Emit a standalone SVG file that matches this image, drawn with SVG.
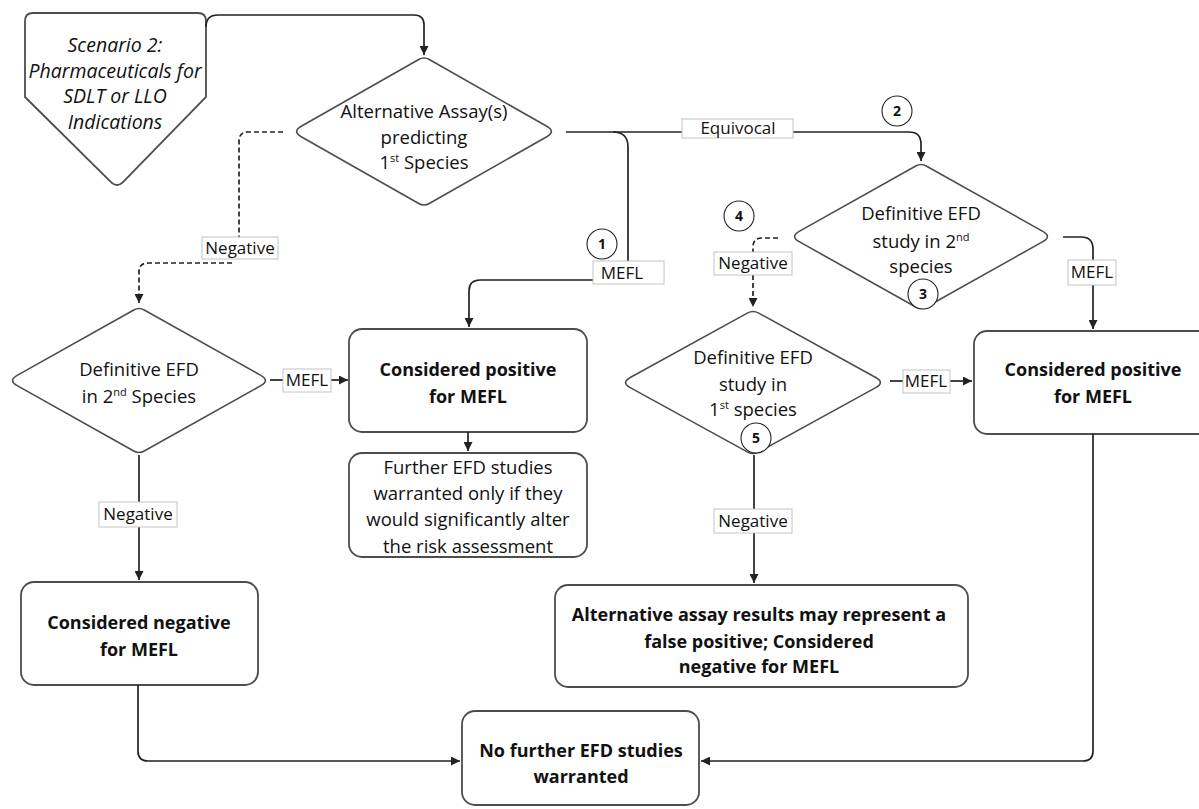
<svg xmlns="http://www.w3.org/2000/svg" width="1199" height="809" viewBox="0 0 1199 809">
<defs>
<style>
.box{fill:#fff;stroke:#4d4d4d;stroke-width:1.8}
.dia{fill:#fff;stroke:#4d4d4d;stroke-width:1.6}
.lbl{fill:#fff;stroke:#c4c4c4;stroke-width:1}
.con{fill:none;stroke:#222;stroke-width:1.7}
.dash{stroke-dasharray:5 3}
.circ{fill:#fff;stroke:#222;stroke-width:1.1}
text{font-family:"Open Sans","DejaVu Sans",sans-serif;fill:#111;text-anchor:middle}
.t{font-size:18.5px}
.b{font-size:18px;font-weight:bold}
.l{font-size:17px}
.i{font-size:19.5px;font-style:italic}
.n{font-size:14px;font-weight:bold}
</style>
<marker id="ah" markerUnits="userSpaceOnUse" markerWidth="10" markerHeight="9" refX="9" refY="4.5" orient="auto">
<path d="M0,0 L9,4.5 L0,9 Z" fill="#222"/>
</marker>
</defs>
<rect width="1199" height="809" fill="#fff"/>

<g id="start">
<path class="box" d="M33,13 H198 Q206,13 206,21 V97 L124,181 Q117,189 110,181 L25,97 V21 Q25,13 33,13 Z"/>
<text class="i" x="115" y="52">Scenario 2:</text>
<text class="i" x="115" y="78">Pharmaceuticals for</text>
<text class="i" x="115" y="103">SDLT or LLO</text>
<text class="i" x="115" y="129">Indications</text>
</g>

<g id="alt-assay">
<path class="dia" d="M418.72,59.5 Q424,56.5 429.28,59.5 L546.76,126.25 Q556,131.5 546.76,136.75 L429.28,203.5 Q424,206.5 418.72,203.5 L301.24,136.75 Q292,131.5 301.24,126.25 Z"/>
<text class="t" x="424" y="118">Alternative Assay(s)</text>
<text class="t" x="424" y="144">predicting</text>
<text class="t" x="424" y="169">1<tspan font-size="11" dy="-7">st</tspan><tspan dy="7"> Species</tspan></text>
</g>

<g id="efd-2nd-equivocal">
<path class="dia" d="M915.76,165.94 Q921,163 926.24,165.94 L1042.83,231.36 Q1052,236.5 1042.83,241.65 L926.24,307.06 Q921,310 915.76,307.06 L799.17,241.65 Q790,236.5 799.17,231.36 Z"/>
<text class="t" x="921" y="220">Definitive EFD</text>
<text class="t" x="921" y="248">study in 2<tspan font-size="11" dy="-7">nd</tspan></text>
<text class="t" x="921" y="273">species</text>
</g>

<g id="efd-1st">
<path class="dia" d="M747.72,312.9 Q753,310 758.28,312.9 L875.76,377.43 Q885,382.5 875.76,387.58 L758.28,452.1 Q753,455 747.72,452.1 L630.24,387.58 Q621,382.5 630.24,377.43 Z"/>
<text class="t" x="753" y="364">Definitive EFD</text>
<text class="t" x="753" y="391">study in</text>
<text class="t" x="753" y="416">1<tspan font-size="11" dy="-7">st</tspan><tspan dy="7"> species</tspan></text>
</g>

<g id="efd-2nd-negative">
<path class="dia" d="M133.76,309.94 Q139,307 144.24,309.94 L260.83,375.36 Q270,380.5 260.83,385.65 L144.24,451.06 Q139,454 133.76,451.06 L17.17,385.65 Q8,380.5 17.17,375.36 Z"/>
<text class="t" x="139" y="376">Definitive EFD</text>
<text class="t" x="139" y="403">in 2<tspan font-size="11" dy="-7">nd</tspan><tspan dy="7"> Species</tspan></text>
</g>

<g id="positive-left">
<rect class="box" x="349" y="329" width="238" height="103" rx="13"/>
<text class="b" x="468" y="376">Considered positive</text>
<text class="b" x="468" y="403">for MEFL</text>
</g>

<g id="further">
<rect class="box" x="349" y="453" width="238" height="104" rx="13"/>
<text class="t" x="468" y="474">Further EFD studies</text>
<text class="t" x="468" y="500">warranted only if they</text>
<text class="t" x="468" y="526">would significantly alter</text>
<text class="t" x="468" y="553">the risk assessment</text>
</g>

<g id="positive-right">
<rect class="box" x="974" y="331" width="238" height="103" rx="13"/>
<text class="b" x="1093" y="376">Considered positive</text>
<text class="b" x="1093" y="403">for MEFL</text>
</g>

<g id="negative">
<rect class="box" x="21" y="582" width="237" height="103" rx="13"/>
<text class="b" x="139" y="629">Considered negative</text>
<text class="b" x="139" y="656">for MEFL</text>
</g>

<g id="false-positive">
<rect class="box" x="555" y="585" width="413" height="102" rx="13"/>
<text class="b" x="759" y="621">Alternative assay results may represent a</text>
<text class="b" x="759" y="648">false positive; Considered</text>
<text class="b" x="759" y="673">negative for MEFL</text>
</g>

<g id="no-further">
<rect class="box" x="462" y="711" width="237" height="94" rx="13"/>
<text class="b" x="581" y="757">No further EFD studies</text>
<text class="b" x="581" y="783">warranted</text>
</g>

<g id="connectors">
<path class="con" d="M206,27 Q206,15 218,15 H414 Q424,15 424,25 V55" marker-end="url(#ah)"/>
<path class="con" d="M566,132 H682"/>
<path class="con" d="M793,132 H909 Q921,132 921,144 V161" marker-end="url(#ah)"/>
<path class="con" d="M613,132 Q628,132 628,147 V261"/>
<path class="con" d="M593,280 H480 Q469,280 469,291 V327" marker-end="url(#ah)"/>
<path class="con dash" d="M283,132 H248 Q239,132 239,141 V237"/>
<path class="con dash" d="M232,263 H148 Q139,263 139,272 V303" marker-end="url(#ah)"/>
<path class="con" d="M270,380 H283"/>
<path class="con" d="M331,380 H348" marker-end="url(#ah)"/>
<path class="con" d="M468,432 V451" marker-end="url(#ah)"/>
<path class="con" d="M139,455 V502"/>
<path class="con" d="M139,527 V580" marker-end="url(#ah)"/>
<path class="con" d="M138,685 V751 Q138,761 148,761 H460" marker-end="url(#ah)"/>
<path class="con dash" d="M778,238 H762 Q753,238 753,247 V252"/>
<path class="con dash" d="M753,275 V307" marker-end="url(#ah)"/>
<path class="con" d="M1063,237 H1081 Q1093,237 1093,249 V260"/>
<path class="con" d="M1093,285 V329" marker-end="url(#ah)"/>
<path class="con" d="M890,381 H903"/>
<path class="con" d="M950,381 H972" marker-end="url(#ah)"/>
<path class="con" d="M754,455 V509"/>
<path class="con" d="M754,533 V583" marker-end="url(#ah)"/>
<path class="con" d="M1093,434 V751 Q1093,761 1083,761 H701" marker-end="url(#ah)"/>

<rect class="lbl" x="682" y="119" width="111" height="19"/>
<text class="l" x="738" y="134">Equivocal</text>
<rect class="lbl" x="593" y="261" width="71" height="23"/>
<text class="l" x="622" y="279">MEFL</text>
<rect class="lbl" x="202" y="237" width="76" height="22"/>
<text class="l" x="240" y="254">Negative</text>
<rect class="lbl" x="283" y="369" width="48" height="23"/>
<text class="l" x="307" y="386">MEFL</text>
<rect class="lbl" x="99" y="502" width="78" height="25"/>
<text class="l" x="138" y="520">Negative</text>
<rect class="lbl" x="714" y="252" width="78" height="23"/>
<text class="l" x="753" y="269">Negative</text>
<rect class="lbl" x="1068" y="260" width="48" height="25"/>
<text class="l" x="1092" y="278">MEFL</text>
<rect class="lbl" x="903" y="370" width="47" height="23"/>
<text class="l" x="926" y="387">MEFL</text>
<rect class="lbl" x="714" y="509" width="78" height="24"/>
<text class="l" x="753" y="527">Negative</text>
</g>

<g id="markers">
<circle class="circ" cx="602" cy="244" r="15"/>
<text class="n" x="602" y="249">1</text>
<circle class="circ" cx="897" cy="111" r="15"/>
<text class="n" x="897" y="116">2</text>
<circle class="circ" cx="923" cy="294" r="15"/>
<text class="n" x="923" y="299">3</text>
<circle class="circ" cx="739" cy="216" r="15"/>
<text class="n" x="739" y="221">4</text>
<circle class="circ" cx="756" cy="438" r="15"/>
<text class="n" x="756" y="443">5</text>
</g>
</svg>
